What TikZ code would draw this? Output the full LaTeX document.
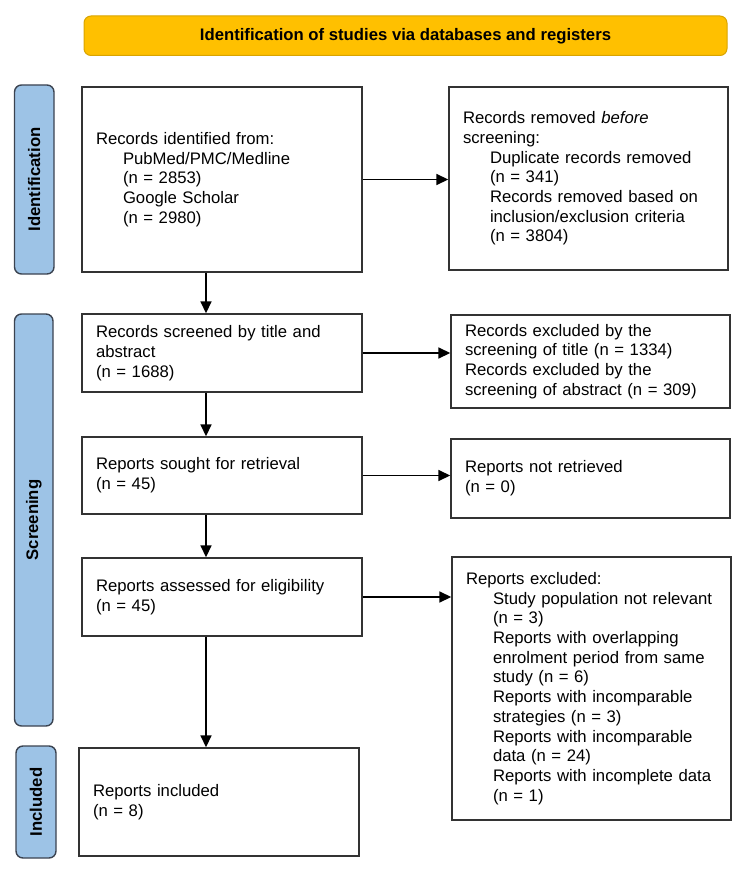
\documentclass[tikz,border=0pt]{standalone}
\usepackage{fontspec}
\setmainfont{Liberation Sans}
\usetikzlibrary{arrows.meta}
\definecolor{bannerfill}{HTML}{FFC000}
\definecolor{bannerline}{HTML}{D9A400}
\definecolor{barfill}{HTML}{9DC3E6}
\definecolor{barline}{HTML}{3B4350}
\definecolor{boxline}{HTML}{333333}
\newcommand{\myind}{\hspace*{27pt}}
\begin{document}
\begin{tikzpicture}[x=1pt,y=-1pt,
  every node/.style={font=\fontsize{16.7}{19.7}\selectfont},
  flowbox/.style={draw=boxline, line width=1.4pt, fill=white, align=left,
    inner xsep=14pt, inner ysep=0pt, text width=#1-28pt, minimum width=#1},
  flowbox/.default=280pt,
  sidebar/.style={draw=barline, fill=barfill, line width=1.4pt, rounded corners=7pt,
    rotate=90, inner sep=0pt, font=\fontsize{16.7}{19.7}\selectfont\bfseries},
  banner/.style={draw=bannerline, fill=bannerfill, line width=1pt, rounded corners=7pt,
    inner sep=0pt, font=\fontsize{16.7}{19.7}\selectfont\bfseries},
  arr/.style={-{Triangle[length=12pt,width=11pt]}, line width=1.6pt, draw=black}
]
\useasboundingbox (0,0) rectangle (750,872);

% banner
\node[banner, minimum width=643pt, minimum height=39.5pt] (ban) at (405.5,35.75)
  {Identification of studies via databases and registers};

% side bars
\node[sidebar, minimum width=189pt, minimum height=39.5pt] (idbar) at (34.25,179.5) {Identification};
\node[sidebar, minimum width=412pt, minimum height=38.5pt] (scbar) at (33.75,520) {Screening};
\node[sidebar, minimum width=112pt, minimum height=40pt] (inbar) at (36,802) {Included};

% boxes
\node[flowbox, minimum height=185pt] (A) at (222,179.5)
  {Records identified from:\\
   \myind PubMed/PMC/Medline\\
   \myind (n = 2853)\\
   \myind Google Scholar\\
   \myind (n = 2980)};
\node[flowbox=279pt, minimum height=183pt] (B) at (588.5,178.5)
  {Records removed \textit{before}\\
   screening:\\
   \myind Duplicate records removed\\
   \myind (n = 341)\\
   \myind Records removed based on\\
   \myind inclusion/exclusion criteria\\
   \myind (n = 3804)};
\node[flowbox, minimum height=78pt] (C) at (222,353)
  {Records screened by title and\\
   abstract\\
   (n = 1688)};
\node[flowbox=279pt, minimum height=93pt] (D) at (590.5,361.5)
  {Records excluded by the\\
   screening of title (n = 1334)\\
   Records excluded by the\\
   screening of abstract (n = 309)};
\node[flowbox, minimum height=77pt] (E) at (222,475.5)
  {Reports sought for retrieval\\
   (n = 45)};
\node[flowbox=279pt, minimum height=79pt] (F) at (590.5,478.5)
  {Reports not retrieved\\
   (n = 0)};
\node[flowbox, minimum height=78pt] (G) at (222,597)
  {Reports assessed for eligibility\\
   (n = 45)};
\node[flowbox=279pt, minimum height=263pt] (H) at (591.5,688.5)
  {Reports excluded:\\
   \myind Study population not relevant\\
   \myind (n = 3)\\
   \myind Reports with overlapping\\
   \myind enrolment period from same\\
   \myind study (n = 6)\\
   \myind Reports with incomparable\\
   \myind strategies (n = 3)\\
   \myind Reports with incomparable\\
   \myind data (n = 24)\\
   \myind Reports with incomplete data\\
   \myind (n = 1)};
\node[flowbox, minimum height=108pt] (I) at (219,802)
  {Reports included\\
   (n = 8)};

% connectors
\coordinate (col) at (206,0);
\draw[arr] (A.east) -- (A.east -| B.west);
\draw[arr] (C.east) -- (C.east -| D.west);
\draw[arr] (E.east) -- (E.east -| F.west);
\draw[arr] (G.east) -- (G.east -| H.west);
\draw[arr] (A.south -| col) -- (C.north -| col);
\draw[arr] (C.south -| col) -- (E.north -| col);
\draw[arr] (E.south -| col) -- (G.north -| col);
\draw[arr] (G.south -| col) -- (I.north -| col);
\end{tikzpicture}
\end{document}
